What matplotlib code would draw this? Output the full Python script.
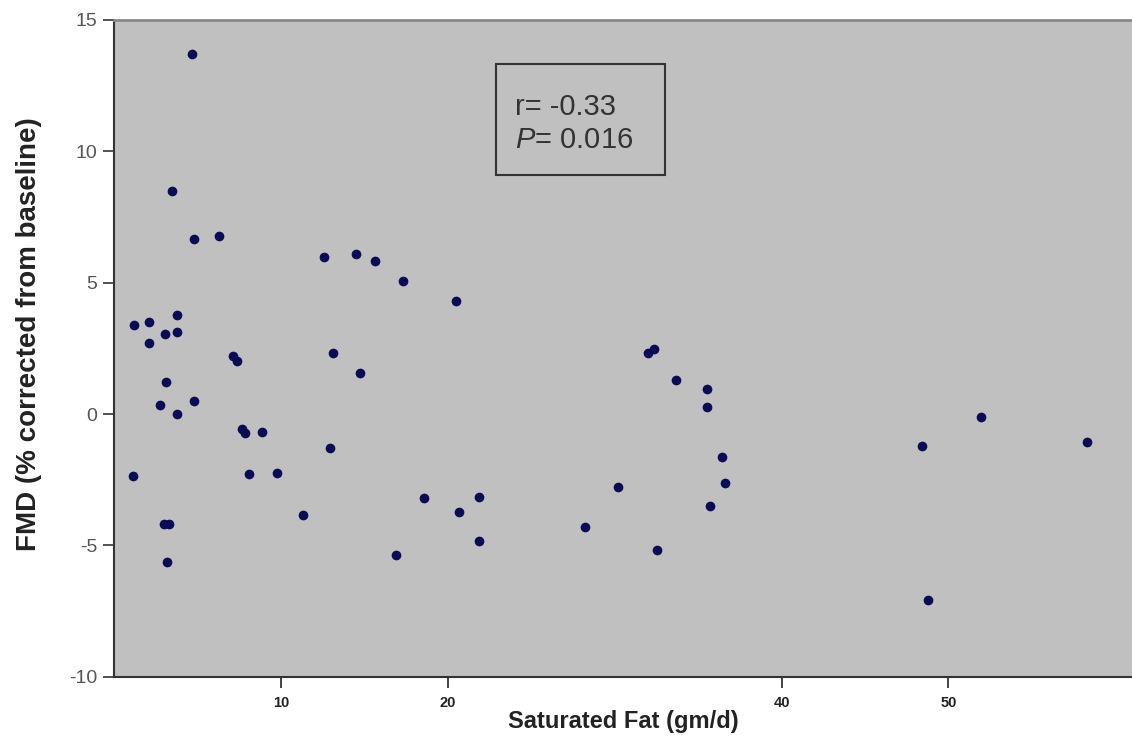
import matplotlib
matplotlib.use("Agg")
import matplotlib.pyplot as plt
from matplotlib.patches import Rectangle

# saturated fat intake (gm/d) vs FMD change
sat_fat = [4.66, 3.45, 4.78, 6.28, 1.19, 2.09, 3.04, 3.75, 3.75, 2.09,
           7.14, 7.38, 3.09, 2.73, 4.78, 3.79, 7.68, 7.88, 8.88, 1.13,
           8.08, 9.74, 2.98, 3.28, 3.19,
           12.61, 14.53, 15.61, 17.33, 20.52, 13.13, 14.77, 12.93, 11.35,
           18.6, 21.86, 20.66, 21.86, 16.9,
           31.98, 32.38, 33.7, 35.54, 35.54, 36.44, 36.6, 35.7, 30.19,
           28.25, 32.55,
           48.42, 51.96, 58.31, 48.76]
fmd = [13.69, 8.48, 6.65, 6.77, 3.39, 3.52, 3.04, 3.77, 3.14, 2.72,
       2.21, 2.0, 1.2, 0.35, 0.5, 0.0, -0.57, -0.74, -0.67, -2.37,
       -2.28, -2.24, -4.2, -4.2, -5.64,
       5.97, 6.10, 5.82, 5.06, 4.30, 2.34, 1.58, -1.29, -3.86,
       -3.19, -3.17, -3.74, -4.84, -5.38,
       2.34, 2.47, 1.30, 0.97, 0.28, -1.62, -2.62, -3.52, -2.79,
       -4.31, -5.17,
       -1.20, -0.10, -1.08, -7.09]

x_ticks = [10, 20, 40, 50]
y_ticks = [-10, -5, 0, 5, 10, 15]
stats_lines = ["r= -0.33", "$\\mathit{P}$= 0.016"]

plt.rcParams['font.family'] = ['Liberation Sans', 'DejaVu Sans']
plt.rcParams['axes.unicode_minus'] = False
plt.rcParams['mathtext.fontset'] = 'custom'
plt.rcParams['mathtext.it'] = 'Liberation Sans:italic'

fig = plt.figure(figsize=(11.32, 7.38), dpi=100)
ax = fig.add_axes([0.1007, 0.0831, 0.8993, 0.8898])
ax.set_facecolor('#c0c0c0')

ax.plot(sat_fat, fmd, linestyle='none', marker='o', markersize=7,
        color='#0b0b55', markeredgewidth=0)

ax.set_xlim(0, 61)
ax.set_ylim(-10, 15)
ax.set_xticks(x_ticks)
ax.set_yticks(y_ticks)
ax.tick_params(axis='x', length=8, width=1.2, labelsize=10.5, colors='#222222', pad=6)
ax.tick_params(axis='y', length=8, width=1.2, labelsize=14, labelcolor='#555555', color='#333333', pad=4)
for lbl in ax.get_xticklabels():
    lbl.set_fontweight('bold')

ax.spines['right'].set_visible(False)
ax.spines['top'].set_color('#888888')
ax.spines['top'].set_linewidth(2)
ax.spines['left'].set_color('#333333')
ax.spines['left'].set_linewidth(1.5)
ax.spines['bottom'].set_color('#333333')
ax.spines['bottom'].set_linewidth(1.5)

ax.set_xlabel('Saturated Fat (gm/d)', fontsize=17, fontweight='bold', color='#222222', labelpad=0)
ax.set_ylabel('FMD (% corrected from baseline)', fontsize=20, fontweight='bold', color='#222222')
ax.yaxis.set_label_coords(-0.071, 0.522)

# stats box
ax.add_patch(Rectangle((0.375, 0.764), 0.166, 0.169, transform=ax.transAxes,
                       fill=False, edgecolor='#333333', linewidth=1.5))
ax.text(0.394, 0.8675, stats_lines[0], transform=ax.transAxes, fontsize=21,
        color='#333333', va='center')
ax.text(0.394, 0.817, stats_lines[1], transform=ax.transAxes, fontsize=21,
        color='#333333', va='center')

fig.savefig('out.png', dpi=100)
